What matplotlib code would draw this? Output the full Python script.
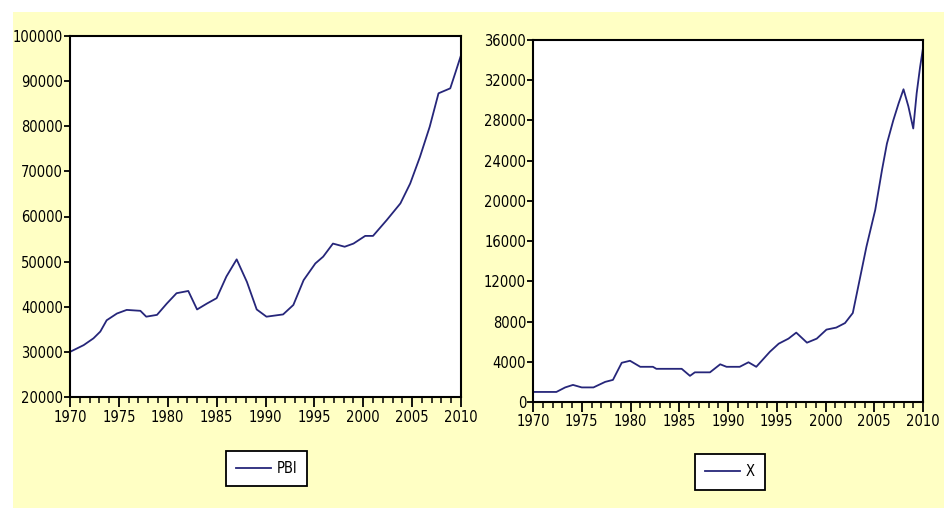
import matplotlib
matplotlib.use("Agg")
import matplotlib.pyplot as plt
from matplotlib.patches import Rectangle
from matplotlib.ticker import MultipleLocator

# PBI (left panel)
pbi_years = [1970.0, 1971.4, 1972.4, 1973.1, 1973.75, 1974.8, 1975.8, 1977.2, 1977.8,
             1978.9, 1979.9, 1980.9, 1982.1, 1983.0, 1984.0, 1985.0, 1986.0, 1987.05,
             1988.1, 1989.1, 1990.1, 1991.8, 1992.85, 1993.9, 1995.1, 1995.9, 1996.9,
             1998.1, 1999.0, 2000.2, 2001.0, 2002.4, 2003.8, 2004.8, 2005.8, 2006.8,
             2007.7, 2008.9, 2009.4, 2009.95]
pbi_vals = [30000, 31500, 33000, 34500, 37000, 38500, 39300, 39100, 37800,
            38200, 40700, 43000, 43500, 39400, 40700, 41900, 46700, 50500,
            45500, 39400, 37800, 38300, 40400, 45900, 49600, 51100, 54000,
            53300, 54000, 55700, 55700, 59200, 62900, 67300, 73200, 79900,
            87300, 88400, 91700, 95400]

# X (right panel)
x_years = [1970.0, 1972.4, 1973.3, 1974.1, 1975.0, 1976.2, 1977.4, 1978.2, 1979.1,
           1979.95, 1981.0, 1982.3, 1982.65, 1985.25, 1986.1, 1986.6, 1988.15, 1989.2,
           1989.85, 1991.2, 1992.1, 1992.9, 1994.3, 1995.2, 1996.2, 1997.0, 1998.1,
           1999.1, 2000.1, 2001.1, 2002.0, 2002.8, 2003.5, 2004.2, 2005.1, 2005.8,
           2006.3, 2006.95, 2007.5, 2008.0, 2008.5, 2009.0, 2009.35, 2009.7, 2010.0]
x_vals = [1000, 1000, 1450, 1700, 1450, 1450, 2000, 2200, 3900,
          4100, 3500, 3500, 3300, 3300, 2600, 2950, 2950, 3750,
          3500, 3500, 3950, 3500, 5000, 5800, 6300, 6900, 5900,
          6300, 7200, 7400, 7850, 8850, 12150, 15450, 19100, 23100,
          25700, 28000, 29700, 31100, 29400, 27200, 30700, 33300, 35200]

line_color = "#26267a"
plt.rcParams["font.family"] = ["DejaVu Sans"]
plt.rcParams["font.stretch"] = "condensed"
fs = 10.5

fig = plt.figure(figsize=(9.44, 5.08), dpi=100)
fig.patch.set_facecolor("white")
fig.patches.append(Rectangle((13 / 944, 0), 1, 1 - 12 / 508, transform=fig.transFigure,
                             facecolor="#ffffc4", edgecolor="none", zorder=-10))


def style_axes(ax, ylim, ystep):
    ax.set_xlim(1970, 2010)
    ax.set_ylim(*ylim)
    ax.xaxis.set_major_locator(MultipleLocator(5))
    ax.xaxis.set_minor_locator(MultipleLocator(1))
    ax.yaxis.set_major_locator(MultipleLocator(ystep))
    ax.tick_params(axis="x", which="major", direction="out", length=7, width=1.3,
                   labelsize=fs, pad=2)
    ax.tick_params(axis="x", which="minor", direction="out", length=4, width=1.1)
    ax.tick_params(axis="y", which="major", direction="out", length=4, width=1.3,
                   labelsize=fs, pad=1)
    for s in ax.spines.values():
        s.set_linewidth(1.5)
        s.set_color("black")
    ax.set_facecolor("white")


ax1 = fig.add_axes([70 / 944, 1 - 397 / 508, 391 / 944, 361 / 508])
ax1.plot(pbi_years, pbi_vals, color=line_color, lw=1.3, label="PBI")
style_axes(ax1, (20000, 100000), 10000)
leg1 = ax1.legend(loc="center", bbox_to_anchor=(266.5 / 944, 1 - 468.5 / 508),
                  bbox_transform=fig.transFigure, fancybox=False, edgecolor="black",
                  framealpha=1, fontsize=fs, handlelength=2.4, handletextpad=0.4,
                  borderpad=0.7)
leg1.get_frame().set_linewidth(1.3)

ax2 = fig.add_axes([533 / 944, 1 - 402 / 508, 390 / 944, 362 / 508])
ax2.plot(x_years, x_vals, color=line_color, lw=1.3, label="X")
style_axes(ax2, (0, 36000), 4000)
leg2 = ax2.legend(loc="center", bbox_to_anchor=(730 / 944, 1 - 472 / 508),
                  bbox_transform=fig.transFigure, fancybox=False, edgecolor="black",
                  framealpha=1, fontsize=fs, handlelength=2.4, handletextpad=0.4,
                  borderpad=0.7)
leg2.get_frame().set_linewidth(1.3)

fig.savefig("out.png", dpi=100)
